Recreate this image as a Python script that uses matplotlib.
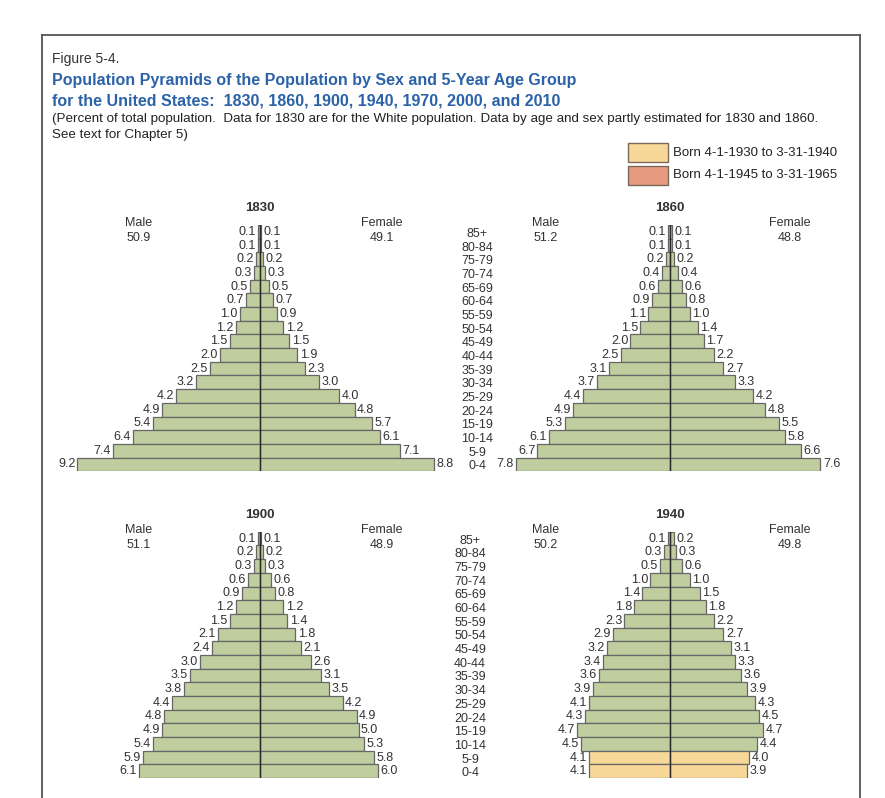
import matplotlib
matplotlib.use("Agg")
import matplotlib.pyplot as plt
from matplotlib.lines import Line2D
from matplotlib.patches import Rectangle
from matplotlib.transforms import blended_transform_factory

plt.rcParams['font.family'] = ['Liberation Sans', 'DejaVu Sans']

# age groups, oldest first (top of the pyramid)
ages = ['85+', '80-84', '75-79', '70-74', '65-69', '60-64', '55-59', '50-54', '45-49',
        '40-44', '35-39', '30-34', '25-29', '20-24', '15-19', '10-14', '5-9', '0-4']

years = ['1830', '1860', '1900', '1940']
male_total = [50.9, 51.2, 51.1, 50.2]
female_total = [49.1, 48.8, 48.9, 49.8]

male_1830 = [0.1, 0.1, 0.2, 0.3, 0.5, 0.7, 1.0, 1.2, 1.5, 2.0, 2.5, 3.2, 4.2, 4.9, 5.4, 6.4, 7.4, 9.2]
female_1830 = [0.1, 0.1, 0.2, 0.3, 0.5, 0.7, 0.9, 1.2, 1.5, 1.9, 2.3, 3.0, 4.0, 4.8, 5.7, 6.1, 7.1, 8.8]
male_1860 = [0.1, 0.1, 0.2, 0.4, 0.6, 0.9, 1.1, 1.5, 2.0, 2.5, 3.1, 3.7, 4.4, 4.9, 5.3, 6.1, 6.7, 7.8]
female_1860 = [0.1, 0.1, 0.2, 0.4, 0.6, 0.8, 1.0, 1.4, 1.7, 2.2, 2.7, 3.3, 4.2, 4.8, 5.5, 5.8, 6.6, 7.6]
male_1900 = [0.1, 0.2, 0.3, 0.6, 0.9, 1.2, 1.5, 2.1, 2.4, 3.0, 3.5, 3.8, 4.4, 4.8, 4.9, 5.4, 5.9, 6.1]
female_1900 = [0.1, 0.2, 0.3, 0.6, 0.8, 1.2, 1.4, 1.8, 2.1, 2.6, 3.1, 3.5, 4.2, 4.9, 5.0, 5.3, 5.8, 6.0]
male_1940 = [0.1, 0.3, 0.5, 1.0, 1.4, 1.8, 2.3, 2.9, 3.2, 3.4, 3.6, 3.9, 4.1, 4.3, 4.7, 4.5, 4.1, 4.1]
female_1940 = [0.2, 0.3, 0.6, 1.0, 1.5, 1.8, 2.2, 2.7, 3.1, 3.3, 3.6, 3.9, 4.3, 4.5, 4.7, 4.4, 4.0, 3.9]

males = [male_1830, male_1860, male_1900, male_1940]
females = [female_1830, female_1860, female_1900, female_1940]

# cohort born 4-1-1930 to 3-31-1940, highlighted per year
cohort_1930s = {'1940': ['0-4', '5-9']}

legend_labels = ['Born 4-1-1930 to 3-31-1940', 'Born 4-1-1945 to 3-31-1965']

GREEN = '#bfcd9f'
YELLOW = '#f7d898'
SALMON = '#e89a80'
EDGE = '#666666'
TEXT = '#333333'
BLUE = '#2b62a8'

W, H = 885, 798
fig = plt.figure(figsize=(W / 100, H / 100), dpi=100)


def px_rect(left, top, width, height):
    return [left / W, 1 - (top + height) / H, width / W, height / H]


# frame around the figure
frame = dict(color='#555555', linewidth=1.3, transform=fig.transFigure)
fig.add_artist(Line2D([42 / W, 860 / W], [1 - 35 / H, 1 - 35 / H], **frame))
fig.add_artist(Line2D([42 / W, 42 / W], [1 - 35 / H, 0], **frame))
fig.add_artist(Line2D([860 / W, 860 / W], [1 - 35 / H, 0], **frame))

# header
fig.text(52 / W, 1 - 59 / H, 'Figure 5-4.', fontsize=10, color=TEXT, va='center')
fig.text(52 / W, 1 - 80 / H, 'Population Pyramids of the Population by Sex and 5-Year Age Group',
         fontsize=11.5, fontweight='bold', color=BLUE, va='center')
fig.text(52 / W, 1 - 101 / H, 'for the United States:  1830, 1860, 1900, 1940, 1970, 2000, and 2010',
         fontsize=11.5, fontweight='bold', color=BLUE, va='center')
fig.text(52 / W, 1 - 119 / H, '(Percent of total population.  Data for 1830 are for the White population. '
         'Data by age and sex partly estimated for 1830 and 1860.', fontsize=9.6, color='#222222', va='center')
fig.text(52 / W, 1 - 135 / H, 'See text for Chapter 5)', fontsize=9.6, color='#222222', va='center')

# legend
for i, (lab, col) in enumerate(zip(legend_labels, [YELLOW, SALMON])):
    top = 143 + i * 23
    fig.add_artist(Rectangle((628 / W, 1 - (top + 19) / H), 40 / W, 19 / H, facecolor=col,
                             edgecolor='#7a6a5a', linewidth=1, transform=fig.transFigure))
    fig.text(673 / W, 1 - (top + 9.5) / H, lab, fontsize=9.5, color='#222222', va='center')

# pyramids: center x in px, top of bars in px
SCALE = 19.8      # px per percent
ROW = 13.68       # px per age group
XMAX = 10
centers = [259.5, 670, 259.5, 670]
tops = [225, 225, 531.8, 531.8]

for k, year in enumerate(years):
    w = 2 * XMAX * SCALE
    h = ROW * len(ages)
    ax = fig.add_axes(px_rect(centers[k] - w / 2, tops[k], w, h))
    ax.set_xlim(-XMAX, XMAX)
    ax.set_ylim(len(ages) - 0.5, -0.5)
    ax.axis('off')

    hl = cohort_1930s.get(year, [])
    colors = [YELLOW if a in hl else GREEN for a in ages]
    y = range(len(ages))
    ax.barh(y, [-v for v in males[k]], height=1.0, color=colors, edgecolor=EDGE, linewidth=0.9)
    ax.barh(y, females[k], height=1.0, color=colors, edgecolor=EDGE, linewidth=0.9)
    ax.axvline(0, color='#2a2a2a', linewidth=1.0)

    for i in y:
        ax.annotate(f'{males[k][i]:.1f}', (-males[k][i], i), xytext=(-1.5, 0),
                    textcoords='offset points', ha='right', va='center', fontsize=9, color=TEXT)
        ax.annotate(f'{females[k][i]:.1f}', (females[k][i], i), xytext=(1.8, 0),
                    textcoords='offset points', ha='left', va='center', fontsize=9, color=TEXT)

    ax.text(0.5, 1.068, year, transform=ax.transAxes, ha='center', va='center',
            fontsize=9.5, fontweight='bold', color=TEXT)
    mx, fx = (0.194, 0.809) if k % 2 == 0 else (0.187, 0.803)
    ax.text(mx, 1.008, 'Male', transform=ax.transAxes, ha='center', va='center', fontsize=9, color=TEXT)
    ax.text(mx, 0.947, f'{male_total[k]:.1f}', transform=ax.transAxes, ha='center', va='center',
            fontsize=9, color=TEXT)
    ax.text(fx, 1.008, 'Female', transform=ax.transAxes, ha='center', va='center', fontsize=9, color=TEXT)
    ax.text(fx, 0.947, f'{female_total[k]:.1f}', transform=ax.transAxes, ha='center', va='center',
            fontsize=9, color=TEXT)

    # age group labels sit between the left and right pyramid
    if k % 2 == 0:
        ax_x = 1.05 if k == 0 else 1.032
        tr = blended_transform_factory(ax.transAxes, ax.transData)
        for i, a in enumerate(ages):
            ax.text(ax_x, i + 0.15, a, transform=tr, ha='center', va='center', fontsize=9, color=TEXT)

fig.savefig('out.png', dpi=100)
